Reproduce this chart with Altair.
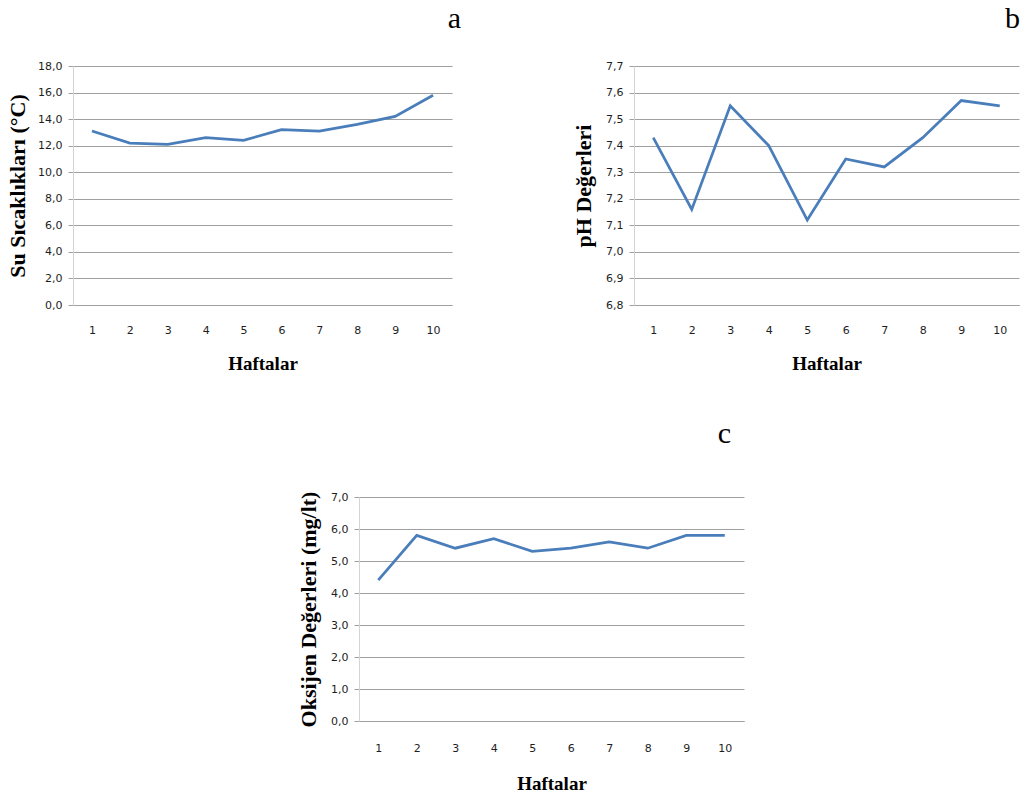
import altair as alt
import pandas as pd

# Haftalık ölçümler
hafta = list(range(1, 11))
sicaklik = [13.1, 12.2, 12.1, 12.6, 12.4, 13.2, 13.1, 13.6, 14.2, 15.8]
ph = [7.43, 7.16, 7.55, 7.40, 7.12, 7.35, 7.32, 7.43, 7.57, 7.55]
oksijen = [4.4, 5.8, 5.4, 5.7, 5.3, 5.4, 5.6, 5.4, 5.8, 5.8]

sicaklik_ticks = [0, 2, 4, 6, 8, 10, 12, 14, 16, 18]
ph_ticks = [6.8, 6.9, 7.0, 7.1, 7.2, 7.3, 7.4, 7.5, 7.6, 7.7]
oksijen_ticks = [0, 1, 2, 3, 4, 5, 6, 7]

LINE = "#4a7ebb"
GRID = "#a0a0a0"
COMMA = "replace(format(datum.value, '.1f'), '.', ',')"


def panel(values, ytitle, ticks, letter, width, height, lab_pad, title_pad,
          y_title_pad, letter_offset, letter_dx):
    df = pd.DataFrame({"Hafta": hafta, "Deger": values})
    return (
        alt.Chart(df)
        .mark_line(color=LINE, strokeWidth=2.75)
        .encode(
            x=alt.X(
                "Hafta:O",
                title="Haftalar",
                axis=alt.Axis(
                    labelAngle=0,
                    ticks=False,
                    tickSize=0,
                    domainColor=GRID,
                    labelPadding=lab_pad,
                    titlePadding=title_pad,
                    titleFontSize=19,
                ),
            ),
            y=alt.Y(
                "Deger:Q",
                title=ytitle,
                scale=alt.Scale(domain=[ticks[0], ticks[-1]], nice=False, zero=False),
                axis=alt.Axis(
                    values=ticks,
                    labelExpr=COMMA,
                    grid=True,
                    tickSize=5,
                    labelPadding=6,
                    titlePadding=y_title_pad,
                    domainColor="#d4d4d4",
                    titleFontSize=22,
                ),
            ),
        )
        .properties(
            width=width,
            height=height,
            title=alt.TitleParams(
                letter,
                anchor="end",
                frame="group",
                font="Liberation Serif",
                fontSize=30,
                fontWeight="normal",
                color="black",
                offset=letter_offset,
                dx=letter_dx,
            ),
        )
    )


a = panel(sicaklik, "Su Sıcaklıkları (°C)", sicaklik_ticks, "a", 379, 239, 19, 19, 8, 26, 9)
b = panel(ph, "pH Değerleri", ph_ticks, "b", 385, 239, 19, 19, 10, 26, 1)
c = panel(oksijen, "Oksijen Değerleri (mg/lt)", oksijen_ticks, "c", 385, 224, 21, 21, 10, 42, -13)

spacer = (
    alt.Chart(pd.DataFrame({"v": [0]}))
    .mark_point(opacity=0)
    .properties(width=224, height=10)
)

top_row = alt.hconcat(a, b, spacing=111)
bottom_row = alt.hconcat(spacer, c, spacing=0)

chart = (
    alt.vconcat(top_row, bottom_row, spacing=46)
    .properties(
        padding={"left": 6, "top": 4, "right": 0, "bottom": 0},
        background="white",
    )
    .configure_view(stroke=None)
    .configure_axis(
        labelFont="DejaVu Sans",
        labelFontSize=11,
        labelColor="#1e1e1e",
        titleFont="Liberation Serif",
        titleFontWeight="bold",
        titleColor="black",
        gridColor=GRID,
        tickColor=GRID,
    )
)

chart.save("out.html", embed_options={"renderer": "svg", "actions": False})
